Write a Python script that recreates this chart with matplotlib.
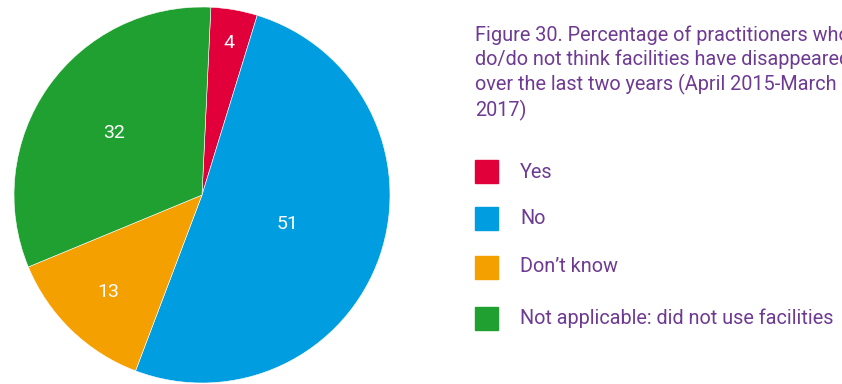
import numpy as np
import matplotlib
matplotlib.use("Agg")
import matplotlib.pyplot as plt

# survey answers, percent of practitioners
LABELS = ["Yes", "No", "Don\u2019t know", "Not applicable: did not use facilities"]
VALUES = [4, 51, 13, 32]
COLORS = ["#E2003A", "#009EE0", "#F4A000", "#1FA030"]
# how far out each percentage sits inside its wedge (fraction of radius)
LABEL_R = [0.82, 0.48, 0.72, 0.57]

PURPLE = "#6E3B93"
W, H = 842, 384
plt.rcParams["font.family"] = ["Roboto", "DejaVu Sans"]

fig = plt.figure(figsize=(W / 100, H / 100), dpi=100)

# pie placed in pixel terms: centre (202, 195), radius 188
cx, cy, r = 202, 195, 188
ax = fig.add_axes([(cx - r) / W, (H - cy - r) / H, 2 * r / W, 2 * r / H])
start = 87.3
wedges, _ = ax.pie(VALUES, colors=COLORS, startangle=start, counterclock=False,
                   radius=1, wedgeprops=dict(edgecolor="white", linewidth=0.4))
ax.set_xlim(-1, 1); ax.set_ylim(-1, 1)
ax.set_aspect("equal")
ax.axis("off")

cum = np.cumsum([0] + VALUES)
for i, v in enumerate(VALUES):
    mid = start - (cum[i] + v / 2) / sum(VALUES) * 360
    a = np.deg2rad(mid)
    ax.text(LABEL_R[i] * np.cos(a), LABEL_R[i] * np.sin(a), f"{v}",
            ha="center", va="center", color="white", fontsize=14)

# title block on the right (runs past the right edge, as in the report layout)
fig.text(475 / W, 1 - 25 / H,
         "Figure 30. Percentage of practitioners who\n"
         "do/do not think facilities have disappeared\n"
         "over the last two years (April 2015-March\n"
         "2017)",
         ha="left", va="top", color=PURPLE, fontsize=14.3, linespacing=1.3)

# legend: coloured squares with labels
ys = [172, 218, 267, 318]
for lab, col, y in zip(LABELS, COLORS, ys):
    fig.patches.append(plt.Rectangle((475 / W, 1 - (y + 11.5) / H), 23 / W, 23 / H,
                                     transform=fig.transFigure, color=col))
    fig.text(520 / W, 1 - y / H, lab, ha="left", va="center",
             color=PURPLE, fontsize=14.3)

fig.savefig("out.png", dpi=100)
